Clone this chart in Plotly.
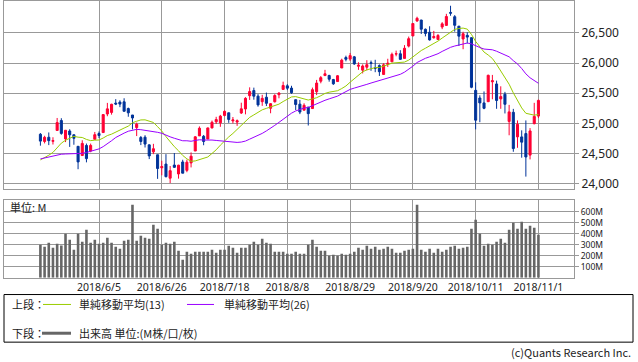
import plotly.graph_objects as go

# ---------------- data ----------------
month_days = [
    (5, [15, 16, 17, 18, 21, 22, 23, 24, 25, 29, 30, 31]),
    (6, [1, 4, 5, 6, 7, 8, 11, 12, 13, 14, 15, 18, 19, 20, 21, 22, 25, 26, 27, 28, 29]),
    (7, [2, 3, 5, 6, 9, 10, 11, 12, 13, 16, 17, 18, 19, 20, 23, 24, 25, 26, 27, 30, 31]),
    (8, [1, 2, 3, 6, 7, 8, 9, 10, 13, 14, 15, 16, 17, 20, 21, 22, 23, 24, 27, 28, 29, 30, 31]),
    (9, [4, 5, 6, 7, 10, 11, 12, 13, 14, 17, 18, 19, 20, 21, 24, 25, 26, 27, 28]),
    (10, [1, 2, 3, 4, 5, 8, 9, 10, 11, 12, 15, 16, 17, 18, 19, 22, 23, 24, 25, 26, 29, 30, 31]),
    (11, [1]),
]
dates = [f"2018/{m}/{d}" for m, days in month_days for d in days]

opens = [
    24820, 24700, 24770, 24703, 24883, 25047, 24743, 24874, 24811, 24620,
    24467, 24634, 24542, 24736, 24832, 24848, 25156, 25182, 25336, 25353,
    25358, 25246, 25139, 24931, 24765, 24771, 24644, 24528, 24480, 24264,
    24325, 24091, 24309, 24161, 24360, 24221, 24345, 24542, 24793, 24786,
    24741, 24925, 25026, 25009, 25132, 25176, 25041, 25022, 25172, 25239,
    25460, 25545, 25452, 25360, 25434, 25251, 25359, 25476, 25564, 25623,
    25585, 25393, 25319, 25219, 25270, 25246, 25525, 25700, 25793, 25795,
    25727, 25694, 25919, 26092, 26066, 26104, 25948, 25883, 25932, 26007,
    25921, 25959, 25812, 25978, 26021, 26151, 26155, 26078, 26282, 26450,
    26699, 26714, 26561, 26511, 26421, 26393, 26598, 26625, 26840, 26769,
    26612, 26400, 26460, 26422, 25548, 25421, 25340, 25360, 25690, 25654,
    25406, 25484, 25033, 25184, 24776, 24776, 24831, 24474, 24995, 25121,
]
highs = [
    24840, 24795, 24850, 24770, 25090, 25086, 24891, 24903, 24815, 24625,
    24720, 24666, 24665, 24858, 24866, 25150, 25340, 25326, 25402, 25384,
    25417, 25262, 25139, 25013, 24791, 24804, 24650, 24661, 24480, 24381,
    24490, 24293, 24509, 24313, 24397, 24399, 24519, 24789, 24950, 24808,
    24930, 25047, 25109, 25141, 25216, 25176, 25106, 25065, 25343, 25435,
    25598, 25593, 25485, 25474, 25511, 25338, 25484, 25519, 25692, 25651,
    25624, 25393, 25389, 25333, 25270, 25594, 25721, 25785, 25888, 25806,
    25738, 25802, 26073, 26123, 26168, 26118, 26014, 25978, 26048, 26042,
    26055, 25978, 25998, 26072, 26174, 26207, 26214, 26298, 26440, 26657,
    26769, 26717, 26574, 26611, 26534, 26482, 26679, 26817, 26951, 26796,
    26616, 26520, 26510, 26422, 25681, 25466, 25530, 25808, 25804, 25709,
    25615, 25523, 25307, 25241, 25049, 24885, 25049, 24922, 25341, 25395,
]
lows = [
    24630, 24668, 24640, 24650, 24883, 24812, 24690, 24610, 24646, 24240,
    24467, 24354, 24522, 24736, 24756, 24848, 25119, 25145, 25304, 25269,
    25197, 25110, 24900, 24790, 24640, 24600, 24408, 24490, 24080, 24139,
    24104, 24010, 24263, 24084, 24174, 24190, 24270, 24542, 24793, 24638,
    24741, 24917, 24990, 24943, 25117, 25009, 24999, 24959, 25156, 25150,
    25389, 25393, 25277, 25291, 25288, 25168, 25346, 25416, 25564, 25552,
    25490, 25222, 25154, 25219, 24965, 25246, 25470, 25665, 25793, 25692,
    25639, 25689, 25919, 26029, 26036, 25972, 25888, 25829, 25880, 25872,
    25849, 25787, 25808, 25936, 26021, 26113, 26057, 26078, 26260, 26450,
    26684, 26483, 26443, 26373, 26405, 26392, 26563, 26625, 26785, 26522,
    26284, 26230, 26326, 25583, 24901, 25020, 25235, 25360, 25400, 25242,
    25242, 25165, 24803, 24529, 24595, 24431, 24118, 24403, 24985, 25089,
]
closes = [
    24706, 24769, 24714, 24715, 25013, 24834, 24886, 24811, 24753, 24361,
    24668, 24416, 24635, 24813, 24799, 25146, 25241, 25317, 25322, 25320,
    25201, 25175, 25090, 24987, 24700, 24657, 24461, 24580, 24252, 24284,
    24117, 24216, 24271, 24307, 24174, 24357, 24456, 24777, 24920, 24700,
    24925, 25019, 25064, 25120, 25200, 25065, 25058, 25044, 25242, 25415,
    25528, 25451, 25307, 25415, 25333, 25327, 25463, 25502, 25629, 25584,
    25509, 25313, 25188, 25300, 25162, 25559, 25669, 25759, 25823, 25733,
    25656, 25790, 26049, 26064, 26124, 25986, 25965, 25952, 25974, 25995,
    25916, 25857, 25971, 25998, 26145, 26154, 26062, 26246, 26405, 26657,
    26743, 26562, 26492, 26385, 26440, 26458, 26651, 26773, 26828, 26627,
    26447, 26487, 26431, 25599, 25053, 25340, 25250, 25798, 25707, 25380,
    25444, 25317, 25191, 24583, 24985, 24689, 24443, 24875, 25116, 25381,
]
# closes of the 25 sessions before the first shown day (for the moving averages)
prior_closes = [
    24408, 24189, 24483, 24360, 24573, 24786, 24748, 24665, 24463, 24448,
    24025, 24084, 24322, 24311, 24163, 24100, 23925, 23930, 24263, 24357,
    24360, 24542, 24740, 24831, 24899,
]
volumes = [  # millions
    300, 282, 318, 273, 309, 294, 400, 345, 255, 400,
    327, 436, 318, 345, 309, 318, 364, 318, 282, 264,
    336, 345, 664, 336, 382, 364, 355, 482, 445, 300,
    318, 309, 327, 245, 164, 236, 218, 236, 236, 236,
    236, 255, 227, 255, 255, 291, 273, 227, 273, 273,
    300, 327, 300, 355, 318, 309, 236, 236, 236, 218,
    218, 236, 218, 218, 300, 345, 282, 245, 245, 200,
    209, 200, 218, 209, 218, 236, 273, 255, 291, 264,
    282, 255, 264, 282, 264, 227, 227, 245, 255, 264,
    664, 255, 236, 264, 227, 264, 236, 255, 282, 291,
    264, 273, 282, 445, 527, 400, 291, 309, 300, 327,
    355, 318, 436, 500, 445, 509, 445, 473, 455, 391,
]
tick_dates = ["2018/6/5", "2018/6/26", "2018/7/18", "2018/8/8",
              "2018/8/29", "2018/9/20", "2018/10/11", "2018/11/1"]
price_ticks = [24000, 24500, 25000, 25500, 26000, 26500]
volume_ticks = [100, 200, 300, 400, 500, 600]

# ---------------- derived ----------------
x = list(range(len(dates)))
tick_idx = [dates.index(d) for d in tick_dates]
all_closes = prior_closes + closes
n0 = len(prior_closes)


def sma(period):
    return [sum(all_closes[n0 + i - period + 1:n0 + i + 1]) / period for i in range(len(closes))]


ma13 = sma(13)
ma26 = sma(26)

# ---------------- style ----------------
W, H = 638, 362
FONT = "Noto Sans CJK JP"
NUMFONT = "Noto Sans"
RED = "#FF0033"
BLUE = "#003399"
GREEN = "#99CC00"
PURPLE = "#9900FF"
GRID = "#999999"
TXT = "#222222"


def px(v):
    return v / W


def py(v):
    return 1 - v / H


XR = [-8.7, 127.5]
XDOM = [px(4), px(574)]

fig = go.Figure()
fig.add_trace(go.Candlestick(
    x=x, open=opens, high=highs, low=lows, close=closes,
    increasing=dict(line=dict(color=RED, width=1), fillcolor=RED),
    decreasing=dict(line=dict(color=BLUE, width=1), fillcolor=BLUE),
    whiskerwidth=0, xaxis="x", yaxis="y", showlegend=False, hoverinfo="skip",
))
fig.add_trace(go.Scatter(x=x, y=ma13, mode="lines", line=dict(color=GREEN, width=1),
                         xaxis="x", yaxis="y", showlegend=False, hoverinfo="skip"))
fig.add_trace(go.Scatter(x=x, y=ma26, mode="lines", line=dict(color=PURPLE, width=1),
                         xaxis="x", yaxis="y", showlegend=False, hoverinfo="skip"))
fig.add_trace(go.Bar(x=x, y=volumes, width=0.62, marker=dict(color="#666666", line=dict(width=0)),
                     xaxis="x2", yaxis="y2", showlegend=False, hoverinfo="skip"))

axis_common = dict(showgrid=True, gridcolor=GRID, gridwidth=1, showline=True, linecolor=GRID,
                   linewidth=1, mirror=True, zeroline=False)

fig.update_layout(
    width=W, height=H, margin=dict(l=0, r=0, t=0, b=0),
    paper_bgcolor="white", plot_bgcolor="white",
    font=dict(family=FONT, size=11, color=TXT),
    showlegend=False,
    xaxis=dict(domain=XDOM, range=XR, tickmode="array", tickvals=tick_idx,
               showticklabels=False, ticks="", anchor="y", rangeslider=dict(visible=False),
               **axis_common),
    yaxis=dict(domain=[py(190.7), py(1)], range=[23910, 27030], side="right", anchor="x",
               tickmode="array", tickvals=price_ticks,
               ticktext=[f"{v:,}" for v in price_ticks],
               ticks="outside", ticklen=4, tickcolor=GRID,
               tickfont=dict(family=NUMFONT, size=12),
               **axis_common),
    xaxis2=dict(domain=XDOM, range=XR, tickmode="array", tickvals=tick_idx, ticktext=tick_dates,
                ticks="", anchor="y2", tickfont=dict(family=NUMFONT, size=10.5), **axis_common),
    yaxis2=dict(domain=[py(280), py(202)], range=[0, 705], side="right", anchor="x2",
                tickmode="array", tickvals=volume_ticks,
                ticktext=[f"{v}M" for v in volume_ticks],
                ticks="outside", ticklen=4, tickcolor=GRID,
                tickfont=dict(family=NUMFONT, size=8.5),
                **axis_common),
)

ROW1, ROW2 = 307, 336
ann = [
    dict(x=px(8), y=py(209), text="単位: M", xanchor="left", yanchor="middle", size=11),
    dict(x=px(10), y=py(ROW1), text="上段：", xanchor="left", yanchor="middle", size=11),
    dict(x=px(77), y=py(ROW1), text="単純移動平均(13)", xanchor="left", yanchor="middle", size=11),
    dict(x=px(222), y=py(ROW1), text="単純移動平均(26)", xanchor="left", yanchor="middle", size=11),
    dict(x=px(10), y=py(ROW2), text="下段：", xanchor="left", yanchor="middle", size=11),
    dict(x=px(77), y=py(ROW2), text="出来高 単位:(M株/口/枚)", xanchor="left", yanchor="middle", size=11),
    dict(x=px(633), y=py(355), text="(c)Quants Research Inc.", xanchor="right", yanchor="middle", size=11),
]
for a in ann:
    fig.add_annotation(x=a["x"], y=a["y"], xref="paper", yref="paper", text=a["text"],
                       xanchor=a["xanchor"], yanchor=a["yanchor"], showarrow=False,
                       font=dict(family=FONT, size=a["size"], color=TXT))

shapes = [
    dict(type="rect", x0=px(4), x1=px(633), y0=py(345), y1=py(297),
         line=dict(color="#000000", width=1), fillcolor="rgba(0,0,0,0)"),
    dict(type="line", x0=px(43), x1=px(71), y0=py(ROW1), y1=py(ROW1), line=dict(color=GREEN, width=1)),
    dict(type="line", x0=px(187), x1=px(214), y0=py(ROW1), y1=py(ROW1), line=dict(color=PURPLE, width=1)),
    dict(type="line", x0=px(42), x1=px(71), y0=py(ROW2), y1=py(ROW2), line=dict(color="#666666", width=3)),
]
for s in shapes:
    fig.add_shape(xref="paper", yref="paper", **s)

fig.write_html("out.html", config={"displayModeBar": False, "staticPlot": True},
               post_script="document.body.style.margin='0';document.body.style.overflow='hidden';")
